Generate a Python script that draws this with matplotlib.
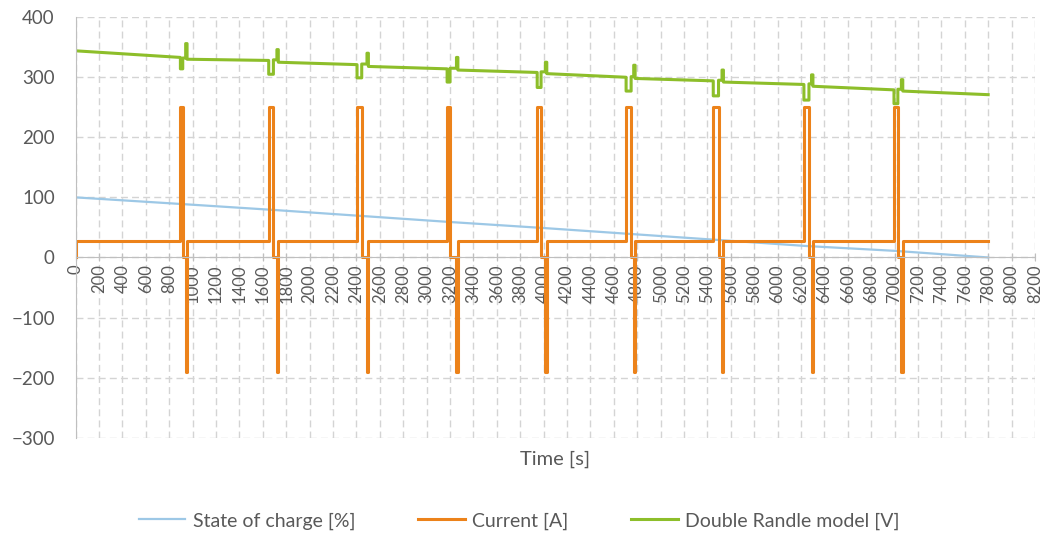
import numpy as np
import matplotlib.pyplot as plt

plt.rcParams['font.family'] = ['Lato', 'DejaVu Sans']

# state of charge [%]
soc_t = [0, 900, 1700, 2450, 3200, 4000, 4750, 5500, 6250, 7000, 7800]
soc_v = [100, 89, 79, 69, 59, 49, 39, 29, 19, 11, 0]

# current pulses [s]
t_up = [895, 1650, 2405, 3175, 3945, 4705, 5450, 6225, 6995]
t_pe = [915, 1690, 2445, 3200, 3978, 4748, 5495, 6268, 7028]
t_neg = [940, 1720, 2490, 3255, 4015, 4770, 5525, 6290, 7058]
neg_len = 12
i_drive = 27
i_pulse = 250
i_neg = -190
t_end = 7800

# double Randle model voltage around each pulse
v_start = 344
v_end = 271
v_pre = [333, 328, 321, 314, 308, 300, 294, 288, 279]
v_dip = [314, 305, 299, 292, 283, 277, 269, 262, 256]
v_rest = [332, 329, 322, 315, 309, 301, 295, 289, 280]
v_spike = [356, 346, 340, 333, 325, 320, 312, 304, 296]
v_post = [330, 325, 318, 312, 306, 298, 292, 285, 277]

# build step series
cur_t, cur_v = [0, 0], [0, i_drive]
vt, vv = [0], [v_start]
for k in range(len(t_up)):
	cur_t += [t_up[k], t_up[k], t_pe[k], t_pe[k], t_neg[k], t_neg[k], t_neg[k] + neg_len, t_neg[k] + neg_len]
	cur_v += [i_drive, i_pulse, i_pulse, 0, 0, i_neg, i_neg, i_drive]
	vt += [t_up[k], t_up[k], t_pe[k], t_pe[k], t_neg[k], t_neg[k], t_neg[k] + neg_len, t_neg[k] + neg_len]
	vv += [v_pre[k], v_dip[k], v_dip[k], v_rest[k], v_rest[k], v_spike[k], v_spike[k], v_post[k]]
cur_t.append(t_end)
cur_v.append(i_drive)
vt.append(t_end)
vv.append(v_end)

fig = plt.figure(figsize=(10.47, 5.37), dpi=100)
ax = fig.add_axes([0.0723, 0.185, 0.9162, 0.783])

ax.plot(soc_t, soc_v, color='#9DC8E6', lw=1.6, label='State of charge [%]')
ax.plot(cur_t, cur_v, color='#EC821A', lw=2.2, label='Current [A]')
ax.plot(vt, vv, color='#8DBE2A', lw=2.2, label='Double Randle model [V]')

ax.set_xlim(0, 8200)
ax.set_ylim(-300, 400)
ax.set_xticks(np.arange(0, 8201, 200))
ax.set_yticks(np.arange(-300, 401, 100))
ax.grid(True, color='#D4D4D4', lw=1.0, linestyle=(0, (5, 3)))
ax.set_axisbelow(True)

for s in ['top', 'right']:
	ax.spines[s].set_visible(False)
ax.spines['left'].set_color('#BFBFBF')
ax.spines['bottom'].set_position(('data', 0))
ax.spines['bottom'].set_color('#BFBFBF')
ax.tick_params(axis='x', direction='inout', length=6, color='#BFBFBF', labelrotation=90,
	labelsize=12, labelcolor='#595959', pad=2)
ax.tick_params(axis='y', length=0, labelsize=13.5, labelcolor='#595959', pad=15)

ax.text(0.5, -0.03, 'Time [s]', transform=ax.transAxes, ha='center', va='top',
	fontsize=14.5, color='#595959')

fig.legend(loc='center', bbox_to_anchor=(0.496, 0.03), ncol=3, frameon=False,
	fontsize=14, handlelength=2.4, handletextpad=0.4, columnspacing=3.2, labelcolor='#595959')

fig.savefig('out.png', dpi=100)
